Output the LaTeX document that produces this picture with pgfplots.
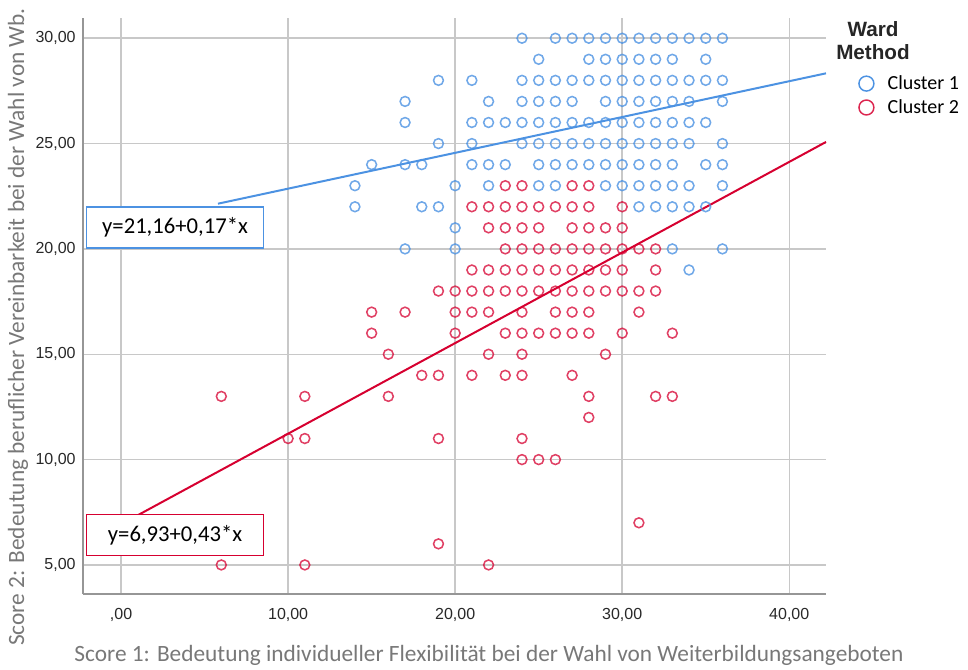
\documentclass[border=0pt]{standalone}
\usepackage{fontspec}
\setmainfont{Carlito}
\newfontfamily\arialf{Liberation Sans}
\usepackage{pgfplots}
\usepackage{pgfplotstable}
\pgfplotsset{compat=1.18}
\definecolor{bluec}{RGB}{76,146,226}
\definecolor{redc}{RGB}{214,0,48}
\definecolor{gridc}{RGB}{200,200,200}
\definecolor{axisc}{RGB}{150,150,150}
\definecolor{labc}{RGB}{120,120,120}
\definecolor{tickc}{RGB}{40,40,40}

\pgfplotstableread{
x y
24 30
26 30
27 30
28 30
29 30
30 30
31 30
32 30
33 30
34 30
35 30
36 30
25 29
28 29
29 29
30 29
31 29
32 29
33 29
35 29
19 28
21 28
24 28
25 28
26 28
27 28
28 28
29 28
30 28
31 28
32 28
33 28
34 28
35 28
36 28
17 27
22 27
24 27
25 27
26 27
27 27
29 27
30 27
31 27
32 27
33 27
34 27
36 27
17 26
21 26
22 26
23 26
24 26
25 26
26 26
27 26
28 26
29 26
30 26
31 26
32 26
33 26
34 26
35 26
19 25
21 25
24 25
25 25
26 25
27 25
28 25
29 25
30 25
31 25
32 25
33 25
34 25
36 25
15 24
17 24
18 24
21 24
22 24
23 24
25 24
26 24
27 24
28 24
29 24
30 24
31 24
32 24
33 24
35 24
36 24
14 23
20 23
22 23
25 23
26 23
29 23
30 23
31 23
32 23
33 23
34 23
36 23
14 22
18 22
19 22
31 22
32 22
33 22
34 22
35 22
20 21
17 20
20 20
33 20
36 20
34 19
}\clusterone

\pgfplotstableread{
x y
23 23
24 23
27 23
28 23
21 22
22 22
23 22
24 22
25 22
26 22
27 22
28 22
30 22
22 21
23 21
24 21
25 21
27 21
28 21
29 21
30 21
23 20
24 20
25 20
26 20
27 20
28 20
29 20
30 20
31 20
32 20
21 19
22 19
23 19
24 19
25 19
26 19
27 19
28 19
29 19
30 19
32 19
19 18
20 18
21 18
22 18
23 18
24 18
25 18
26 18
27 18
28 18
29 18
30 18
31 18
32 18
15 17
17 17
20 17
21 17
22 17
24 17
26 17
27 17
28 17
31 17
15 16
20 16
23 16
24 16
25 16
26 16
27 16
28 16
30 16
33 16
16 15
22 15
24 15
29 15
18 14
19 14
21 14
23 14
24 14
27 14
6 13
11 13
16 13
28 13
32 13
33 13
28 12
10 11
11 11
19 11
24 11
24 10
25 10
26 10
31 7
19 6
6 5
11 5
22 5
}\clustertwo

\begin{document}
\begin{tikzpicture}
\path[use as bounding box] (0,0) rectangle (726pt,501.75pt);
\begin{axis}[
  at={(62.25pt,56.25pt)}, anchor=south west,
  scale only axis, width=557.25pt, height=432pt,
  xmin=-2.28, xmax=42.2, ymin=3.62, ymax=30.96,
  axis x line*=bottom, axis y line*=left,
  axis line style={draw=axisc, line width=1.1pt, -},
  xtick={0,10,20,30,40},
  xticklabels={{,00},{10,00},{20,00},{30,00},{40,00}},
  ytick={5,10,15,20,25,30},
  yticklabels={{5,00},{10,00},{15,00},{20,00},{25,00},{30,00}},
  major tick length=0pt,
  tick label style={font=\arialf\fontsize{12}{14}\selectfont, text=tickc},
  xticklabel style={yshift=-7pt},
  yticklabel style={xshift=-2pt},
  grid=major,
  major grid style={draw=gridc, line width=1.1pt},
  legend style={at={(axis description cs:1.043,0.905)}, anchor=north west,
    draw=none, fill=none, font=\fontsize{15}{17}\selectfont,
    row sep=2pt, inner sep=0pt},
  legend cell align=left,
  clip=false,
]
\addplot[only marks, mark=o, mark size=3.7pt, draw=bluec, mark options={line width=1.15pt, draw opacity=0.8},
  legend image code/.code={\draw[bluec, line width=1.1pt] (5.6pt,0pt) circle (5.6pt); \path[draw=none] (0pt,0pt) -- (19.5pt,0pt);}]
  table[x=x,y=y] {\clusterone};
\addlegendentry{Cluster 1}
\addplot[only marks, mark=o, mark size=3.7pt, draw=redc, mark options={line width=1.15pt, draw opacity=0.75},
  legend image code/.code={\draw[redc!85, line width=1.1pt] (5.6pt,0pt) circle (5.6pt); \path[draw=none] (0pt,0pt) -- (19.5pt,0pt);}]
  table[x=x,y=y] {\clustertwo};
\addlegendentry{Cluster 2}
\addplot[bluec, line width=1.5pt, forget plot] coordinates {(5.8,22.146) (42.2,28.334)};
\addplot[redc, line width=1.5pt, forget plot] coordinates {(0.54,7.162) (42.2,25.076)};
\node[draw=bluec, fill=white, line width=1.1pt, minimum width=132.75pt, minimum height=30.75pt, inner sep=0pt,
  font=\fontsize{17}{20}\selectfont] at (axis cs:3.23,21.02) {y=21,16+0,17*x};
\node[draw=redc, fill=white, line width=1.1pt, minimum width=132.75pt, minimum height=30.75pt, inner sep=0pt,
  font=\fontsize{17}{20}\selectfont] at (axis cs:3.23,6.43) {y=6,93+0,43*x};
\end{axis}
\node[font=\fontsize{17.5}{20}\selectfont, text=labc] at (366.75pt,10.5pt)
  {Score 1: Bedeutung individueller Flexibilität bei der Wahl von Weiterbildungsangeboten};
\node[font=\fontsize{17.5}{20}\selectfont, text=labc, rotate=90] at (13.5pt,256.5pt)
  {Score 2: Bedeutung beruflicher Vereinbarkeit bei der Wahl von Wb.};
\node[font=\arialf\bfseries\fontsize{15.5}{17}\selectfont, align=center, text=black!85] at (654.75pt,471.5pt)
  {Ward\\Method};
\end{tikzpicture}
\end{document}
